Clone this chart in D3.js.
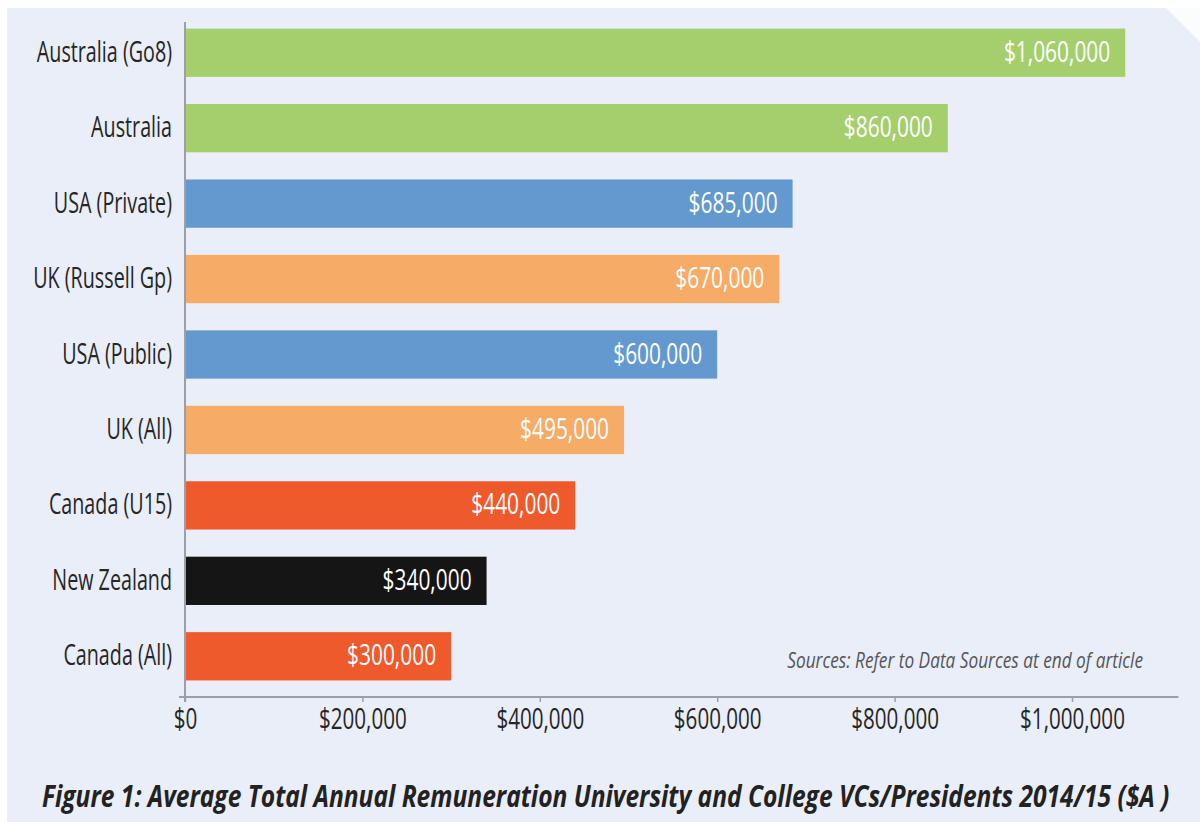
<!DOCTYPE html>
<html><head><meta charset="utf-8">
<script src="https://cdn.jsdelivr.net/npm/d3@7"></script>
<style>
html,body{margin:0;padding:0;background:#fff;}
svg{display:block;}
text{font-family:"Open Sans","Noto Sans",sans-serif;}
</style></head>
<body>
<svg id="chart" width="1200" height="822"></svg>
<script>
const categories = ["Australia (Go8)","Australia","USA (Private)","UK (Russell Gp)","USA (Public)","UK (All)","Canada (U15)","New Zealand","Canada (All)"];
const values = [1060000, 860000, 685000, 670000, 600000, 495000, 440000, 340000, 300000];
const groups = ["AU","AU","USA","UK","USA","UK","CA","NZ","CA"];
const tickValues = [0, 200000, 400000, 600000, 800000, 1000000];
const titleText = "Figure 1: Average Total Annual Remuneration University and College VCs/Presidents 2014/15 ($A )";
const sourceText = "Sources: Refer to Data Sources at end of article";

const colorMap = {AU:"#a5cf6d", USA:"#6399cf", UK:"#f6ab66", CA:"#ef5a2d", NZ:"#151515"};

function condense(sel, k) {
  sel.each(function() {
    const w = this.getComputedTextLength();
    this.setAttribute("textLength", (w * k).toFixed(1));
    this.setAttribute("lengthAdjust", "spacingAndGlyphs");
  });
}

const svg = d3.select("#chart");
svg.append("rect").attr("x",7).attr("y",8).attr("width",1193).attr("height",814).attr("fill","#e9eef8");
svg.append("polygon").attr("points","1166,8 1200,8 1200,42").attr("fill","#fbfcfe");

const x = d3.scaleLinear().domain([0, 1120000]).range([185, 185 + 887*1.12]);
const y = d3.scaleBand().domain(categories).range([15, 694]).paddingInner(0.36).paddingOuter(0.18);
const fmt = v => "$" + d3.format(",")(v);

svg.append("g").selectAll("rect").data(categories).join("rect")
  .attr("x", x(0))
  .attr("y", d => y(d))
  .attr("width", (d,i) => x(values[i]) - x(0))
  .attr("height", y.bandwidth())
  .attr("fill", (d,i) => colorMap[groups[i]]);

const vl = svg.append("g").selectAll("text").data(categories).join("text")
  .attr("x", (d,i) => x(values[i]) - 15)
  .attr("y", d => y(d) + y.bandwidth()/2 + 9)
  .attr("text-anchor","end")
  .attr("fill","#fff")
  .attr("font-size", 29)
  .text((d,i) => fmt(values[i]));
condense(vl, 0.72);

const yAxis = svg.append("g").attr("transform", `translate(${x(0)},0)`)
  .call(d3.axisLeft(y).tickSize(0).tickPadding(13));
yAxis.select(".domain").remove();
yAxis.selectAll("text").attr("font-size", 29).attr("fill","#262626").attr("font-family", null)
  .attr("dy", null).attr("y", 9);
condense(yAxis.selectAll("text"), 0.68);
svg.append("line").attr("x1", x(0)).attr("x2", x(0)).attr("y1", 22).attr("y2", 702)
  .attr("stroke","#9aa0a6").attr("stroke-width",2);

const xAxis = svg.append("g").attr("transform", `translate(0,697)`)
  .call(d3.axisBottom(x).tickValues(tickValues).tickFormat(fmt).tickSize(5).tickPadding(8));
xAxis.select(".domain").remove();
xAxis.selectAll(".tick line").attr("stroke","#9aa0a6").attr("stroke-width",1.5);
xAxis.selectAll("text").attr("font-size", 29).attr("fill","#262626").attr("font-family", null)
  .attr("dy", null).attr("y", 32);
condense(xAxis.selectAll("text"), 0.71);
svg.append("line").attr("x1", 179).attr("x2", x.range()[1]).attr("y1", 697).attr("y2", 697)
  .attr("stroke","#9aa0a6").attr("stroke-width",2);

// sources (scaled horizontally with a transform)
const src = svg.append("text").attr("text-anchor","end")
  .attr("font-size", 21).attr("font-style","italic").attr("fill","#555")
  .text(sourceText);
const sw = src.node().getComputedTextLength();
src.attr("transform", `translate(1143,668) scale(${356/sw},1)`);

// title
const ttl = svg.append("text")
  .attr("font-size", 30).attr("font-style","italic").attr("font-weight","bold").attr("fill","#222")
  .text(titleText);
const tw = ttl.node().getComputedTextLength();
ttl.attr("transform", `translate(42,807) scale(${1128/tw},1)`);
</script>
</body></html>
